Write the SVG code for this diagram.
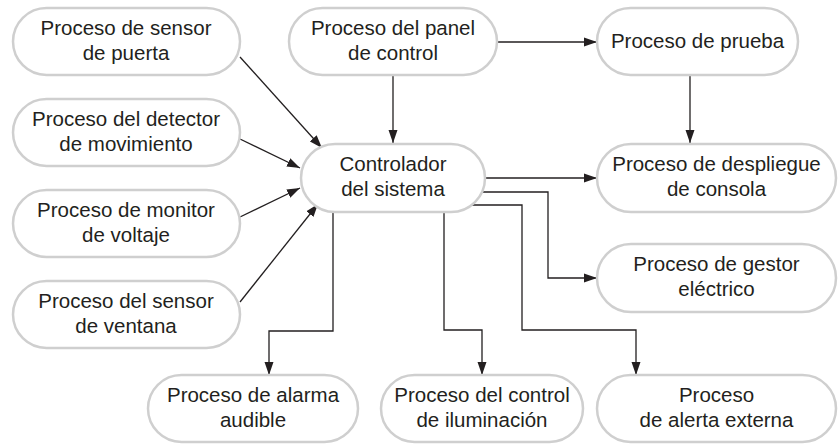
<svg xmlns="http://www.w3.org/2000/svg" width="839" height="445" viewBox="0 0 839 445">
<defs>
<marker id="ah" markerUnits="userSpaceOnUse" markerWidth="14" markerHeight="10" refX="13" refY="5" orient="auto">
<path d="M0,0.5 L13,5 L0,9.5 Z" fill="#231f20"/>
</marker>
</defs>
<style>
.n rect{fill:#fff;stroke:#cfcfcf;stroke-width:2.5}
.n text{font-family:"Liberation Sans",Arial,sans-serif;font-size:20.5px;fill:#231f20;text-anchor:middle}
#conn path{fill:none;stroke:#231f20;stroke-width:1.3;marker-end:url(#ah)}
</style>
<rect width="839" height="445" fill="#fff"/>
<g id="conn">
<path d="M240,57 L322,148"/>
<path d="M240,139 L300,168"/>
<path d="M240,217 L300,188"/>
<path d="M240,302 L318,204"/>
<path d="M393,75 L393,143"/>
<path d="M497,42 L597,42"/>
<path d="M690,75 L690,143"/>
<path d="M485,178 L597,178"/>
<path d="M482,192 L548,192 L548,278 L597,278"/>
<path d="M472,205 L522,205 L522,330 L636,330 L636,375"/>
<path d="M444,212 L444,330 L482,330 L482,375"/>
<path d="M333,210 L333,331 L269,331 L269,375"/>
</g>
<g id="n1" class="n"><rect x="13" y="8" width="227" height="67" rx="33.5"/><text x="126" y="35">Proceso de sensor</text><text x="126" y="60">de puerta</text></g>
<g id="n2" class="n"><rect x="13" y="99" width="227" height="67" rx="33.5"/><text x="126" y="126">Proceso del detector</text><text x="126" y="151">de movimiento</text></g>
<g id="n3" class="n"><rect x="13" y="190" width="227" height="67" rx="33.5"/><text x="126" y="217">Proceso de monitor</text><text x="126" y="242">de voltaje</text></g>
<g id="n4" class="n"><rect x="13" y="281" width="227" height="67" rx="33.5"/><text x="126" y="308">Proceso del sensor</text><text x="126" y="333">de ventana</text></g>
<g id="n5" class="n"><rect x="289" y="8" width="208" height="67" rx="33.5"/><text x="393" y="35">Proceso del panel</text><text x="393" y="60">de control</text></g>
<g id="n6" class="n"><rect x="597" y="8" width="201" height="67" rx="33.5"/><text x="697.5" y="48">Proceso de prueba</text></g>
<g id="n7" class="n"><rect x="301" y="144" width="184" height="68" rx="34"/><text x="393" y="171">Controlador</text><text x="393" y="196">del sistema</text></g>
<g id="n8" class="n"><rect x="597" y="144" width="239" height="68" rx="34"/><text x="716.5" y="171">Proceso de despliegue</text><text x="716.5" y="196">de consola</text></g>
<g id="n9" class="n"><rect x="597" y="244" width="239" height="68" rx="34"/><text x="716.5" y="271">Proceso de gestor</text><text x="716.5" y="296">eléctrico</text></g>
<g id="n10" class="n"><rect x="148" y="375" width="210" height="67" rx="33.5"/><text x="253" y="402">Proceso de alarma</text><text x="253" y="427">audible</text></g>
<g id="n11" class="n"><rect x="381" y="375" width="202" height="67" rx="33.5"/><text x="482" y="402">Proceso del control</text><text x="482" y="427">de iluminación</text></g>
<g id="n12" class="n"><rect x="597" y="375" width="239" height="67" rx="33.5"/><text x="716.5" y="402">Proceso</text><text x="716.5" y="427">de alerta externa</text></g>
</svg>
